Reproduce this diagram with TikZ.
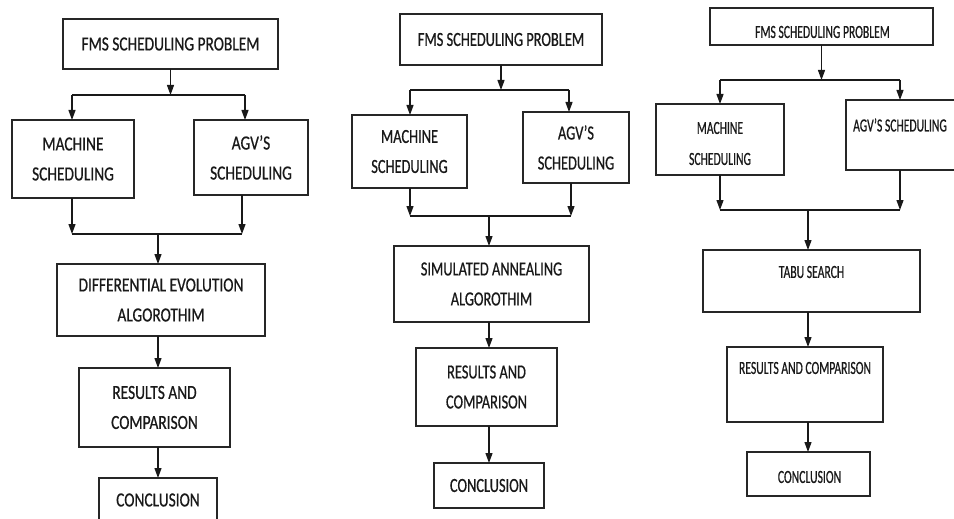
\documentclass[tikz,border=0pt]{standalone}
\usepackage{fontspec}
\setmainfont{Carlito}
\newfontfamily\fontA[FakeStretch=0.77,FakeBold=0.6]{Carlito}
\newfontfamily\fontB[FakeStretch=0.72,FakeBold=0.6]{Carlito}
\newfontfamily\fontC[FakeStretch=0.63,FakeBold=0.6]{Carlito}
\usetikzlibrary{arrows.meta}
\begin{document}
\begin{tikzpicture}[x=1pt,y=-1pt,
  box/.style={draw=black!85, line width=1.3pt, inner sep=0pt, outer sep=0pt, align=center, text=black!90},
  arr/.style={-{Triangle[length=10pt,width=7pt]}, line width=1.2pt, draw=black!90},
  ln/.style={line width=1.2pt, draw=black!90},
  ta/.style={font=\fontA\fontsize{20}{30}\selectfont},
  tb/.style={font=\fontB\fontsize{20}{30}\selectfont},
  tc/.style={font=\fontC\fontsize{18.5}{31}\selectfont, text=black!90, inner sep=0pt, align=center}]
\useasboundingbox (0,0) rectangle (954,519);
\fill[white] (0,0) rectangle (954,519);
\clip (0,0) rectangle (954,519);

% ---------- Diagram 1 ----------
\node[box, ta, minimum width=215pt, minimum height=50pt] (f1) at (170.5,44) {FMS SCHEDULING PROBLEM};
\node[box, ta, minimum width=122pt, minimum height=78pt] (m1) at (73,159) {MACHINE\\SCHEDULING};
\node[box, ta, minimum width=114pt, minimum height=75pt] (ag1) at (251,157.5) {AGV’S\\SCHEDULING};
\node[box, ta, minimum width=208pt, minimum height=72pt] (de1) at (161,300) {DIFFERENTIAL EVOLUTION\\ALGOROTHIM};
\node[box, ta, minimum width=151pt, minimum height=79pt] (r1) at (154.5,407.5) {RESULTS AND\\COMPARISON};
\node[box, ta, minimum width=118pt, minimum height=44pt] (k1) at (158,500) {CONCLUSION};

\coordinate (b1l) at (72,95); \coordinate (b1r) at (245,95);
\draw[ln] (b1l) -- (b1r);
\draw[arr] (f1.south) -- (f1.south |- b1l);
\draw[arr] (b1l) -- (b1l |- m1.north);
\draw[arr] (b1r) -- (b1r |- ag1.north);
\coordinate (c1l) at (72,234); \coordinate (c1r) at (242,234); \coordinate (c1m) at (158,234);
\draw[arr] (c1l |- m1.south) -- (c1l);
\draw[arr] (c1r |- ag1.south) -- (c1r);
\draw[ln] (c1l) -- (c1r);
\draw[arr] (c1m) -- (c1m |- de1.north);
\draw[arr] (c1m |- de1.south) -- (c1m |- r1.north);
\draw[arr] (c1m |- r1.south) -- (c1m |- k1.north);

% ---------- Diagram 2 ----------
\node[box, tb, minimum width=202pt, minimum height=51pt] (f2) at (501,39.5) {FMS SCHEDULING PROBLEM};
\node[box, tb, minimum width=115pt, minimum height=73pt] (m2) at (409.5,151.5) {MACHINE\\SCHEDULING};
\node[box, tb, minimum width=106pt, minimum height=71pt] (ag2) at (576,147.5) {AGV’S\\SCHEDULING};
\node[box, tb, minimum width=195pt, minimum height=76pt] (sa2) at (491.5,284) {SIMULATED ANNEALING\\ALGOROTHIM};
\node[box, tb, minimum width=141pt, minimum height=78pt] (r2) at (486.5,387) {RESULTS AND\\COMPARISON};
\node[box, tb, minimum width=110pt, minimum height=45pt] (k2) at (489,485.5) {CONCLUSION};

\coordinate (b2l) at (410,90); \coordinate (b2r) at (569,90);
\draw[ln] (b2l) -- (b2r);
\draw[arr] (f2.south) -- (f2.south |- b2l);
\draw[arr] (b2l) -- (b2l |- m2.north);
\draw[arr] (b2r) -- (b2r |- ag2.north);
\coordinate (c2l) at (410,216); \coordinate (c2r) at (571,216); \coordinate (c2m) at (489,216);
\draw[arr] (c2l |- m2.south) -- (c2l);
\draw[arr] (c2r |- ag2.south) -- (c2r);
\draw[ln] (c2l) -- (c2r);
\draw[arr] (c2m) -- (c2m |- sa2.north);
\draw[arr] (c2m |- sa2.south) -- (c2m |- r2.north);
\draw[arr] (c2m |- r2.south) -- (c2m |- k2.north);

% ---------- Diagram 3 ----------
\node[box, minimum width=223pt, minimum height=37pt] (f3) at (821.5,26.5) {};
\node[box, minimum width=128pt, minimum height=71pt] (m3) at (720,139.5) {};
\node[box, minimum width=114pt, minimum height=70pt] (ag3) at (903,135) {};
\node[box, minimum width=217pt, minimum height=62pt] (t3) at (811.5,281) {};
\node[box, minimum width=156pt, minimum height=75pt] (r3) at (805,384.5) {};
\node[box, minimum width=123pt, minimum height=44pt] (k3) at (808.5,474) {};

\node[tc] (f3t) at (822.5,32) {FMS SCHEDULING PROBLEM};
\node[tc] (m3t) at (720,143.5) {MACHINE\\SCHEDULING};
\node[tc] (ag3t) at (900,125) {AGV’S SCHEDULING};
\node[tc] (t3t) at (811.5,272) {TABU SEARCH};
\node[tc] (r3t) at (805,368) {RESULTS AND COMPARISON};
\node[tc] (k3t) at (809.5,477) {CONCLUSION};

\coordinate (b3l) at (720,80); \coordinate (b3r) at (900,80);
\draw[ln] (b3l) -- (b3r);
\draw[arr] (f3.south) -- (f3.south |- b3l);
\draw[arr] (b3l) -- (b3l |- m3.north);
\draw[arr] (b3r) -- (b3r |- ag3.north);
\coordinate (c3l) at (720,210); \coordinate (c3r) at (900,210); \coordinate (c3m) at (808,210);
\draw[arr] (c3l |- m3.south) -- (c3l);
\draw[arr] (c3r |- ag3.south) -- (c3r);
\draw[ln] (c3l) -- (c3r);
\draw[arr] (c3m) -- (c3m |- t3.north);
\draw[arr] (c3m |- t3.south) -- (c3m |- r3.north);
\draw[arr] (c3m |- r3.south) -- (c3m |- k3.north);
\end{tikzpicture}
\end{document}
